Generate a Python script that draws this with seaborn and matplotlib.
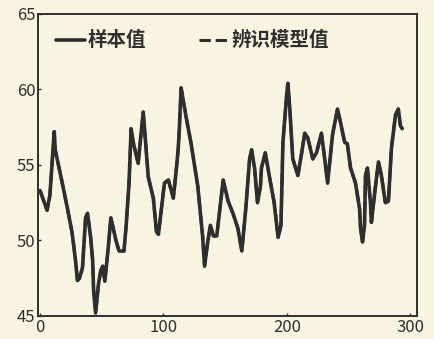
import pandas as pd
import matplotlib
matplotlib.use('Agg')
import matplotlib.pyplot as plt
import seaborn as sns

# data
t = [0, 5.7, 8, 11.5, 12.3, 18, 22, 26, 28.7, 30.3, 32, 34.4, 36.9, 38.5, 41,
     42.6, 43.4, 45, 47.5, 49.2, 50.8, 52.5, 55, 57.4, 61.5, 64, 68, 69.7, 72.1,
     73.8, 75.5, 79.5, 83.6, 87.7, 91.8, 94.3, 95.9, 100.8, 104, 108, 110.3,
     111.9, 112.7, 114.3, 118.3, 122.2, 127.8, 131.7, 133.3, 135.7, 138, 140.5,
     143.2, 148.4, 152.4, 156.3, 160.3, 163.5, 166.7, 169.8, 171.4, 173.8,
     176.2, 178.6, 179.4, 182.5, 185.7, 189.7, 192.9, 195.2, 196.8, 200, 200.8,
     202.4, 204.8, 208.9, 212, 214.5, 216.9, 221, 224, 228, 230.5, 233, 237,
     241, 243.5, 246.8, 249, 251.6, 255.6, 258.9, 259.7, 261.3, 262.9, 263.7,
     265.3, 267.7, 268.5, 271.8, 274.2, 276.6, 279.8, 282.3, 284.7, 288, 290.3,
     292, 293.5]
sample_vals = [53.3, 52.0, 53.0, 57.2, 56.0, 53.8, 52.2, 50.5, 48.7, 47.35, 47.5,
               48.2, 51.5, 51.8, 50.2, 48.7, 46.7, 45.2, 47.2, 48.0, 48.3, 47.3,
               49.3, 51.5, 50.0, 49.3, 49.3, 50.9, 53.8, 57.4, 56.5, 55.1, 58.5,
               54.2, 52.8, 50.6, 50.4, 53.8, 54.0, 52.8, 54.6, 56.0, 57.1, 60.1,
               58.2, 56.5, 53.6, 50.3, 48.3, 49.8, 51.0, 50.3, 50.3, 54.0, 52.6,
               51.8, 50.8, 49.3, 52.1, 55.4, 56.0, 54.8, 52.5, 53.6, 54.8, 55.8,
               54.3, 52.5, 50.2, 51.0, 56.5, 59.8, 60.4, 58.7, 55.4, 54.3, 55.8,
               57.1, 56.8, 55.4, 55.8, 57.1, 55.5, 53.8, 57.0, 58.7, 57.8, 56.5,
               56.4, 54.8, 53.8, 52.1, 50.8, 49.9, 51.0, 54.3, 54.8, 52.5, 51.2,
               53.6, 55.2, 54.3, 52.5, 52.6, 56.1, 58.3, 58.7, 57.6, 57.4]
# model curve coincides with the sample curve in the figure
model_vals = list(sample_vals)
x_ticks = [0, 100, 200, 300]
y_ticks = [45, 50, 55, 60, 65]

sns.set_style('ticks')
plt.rcParams['font.family'] = ['Noto Sans CJK SC', 'DejaVu Sans']

df = pd.DataFrame({'t': t, 'sample': sample_vals, 'model': model_vals})

bg = '#f9f4e2'
fig = plt.figure(figsize=(4.34, 3.39), dpi=100, facecolor=bg)
ax = fig.add_axes([0.088, 0.068, 0.873, 0.891])
ax.set_facecolor(bg)

sns.lineplot(data=df, x='t', y='sample', ax=ax, color='#2e2e2e', lw=2.6,
             label='样本值')
sns.lineplot(data=df, x='t', y='model', ax=ax, color='#2e2e2e', lw=2.2,
             linestyle='--', label='辨识模型值')

ax.set_xlim(-1.5, 305.5)
ax.set_ylim(45, 65)
ax.set_xticks(x_ticks)
ax.set_yticks(y_ticks)
ax.set_xlabel('')
ax.set_ylabel('')
ax.tick_params(direction='in', length=2, width=1, labelsize=12, pad=2,
               colors='#2e2e2e')
for s in ax.spines.values():
    s.set_linewidth(1.4)
    s.set_color('#2e2e2e')

leg = ax.legend(loc='upper left', ncol=2, frameon=False, fontsize=14,
                handlelength=1.5, handletextpad=0.15, columnspacing=2.7,
                borderaxespad=0.7, borderpad=0.2)
for txt in leg.get_texts():
    txt.set_color('#2e2e2e')
    txt.set_fontweight('bold')

plt.savefig('out.png', dpi=100, facecolor=bg)
